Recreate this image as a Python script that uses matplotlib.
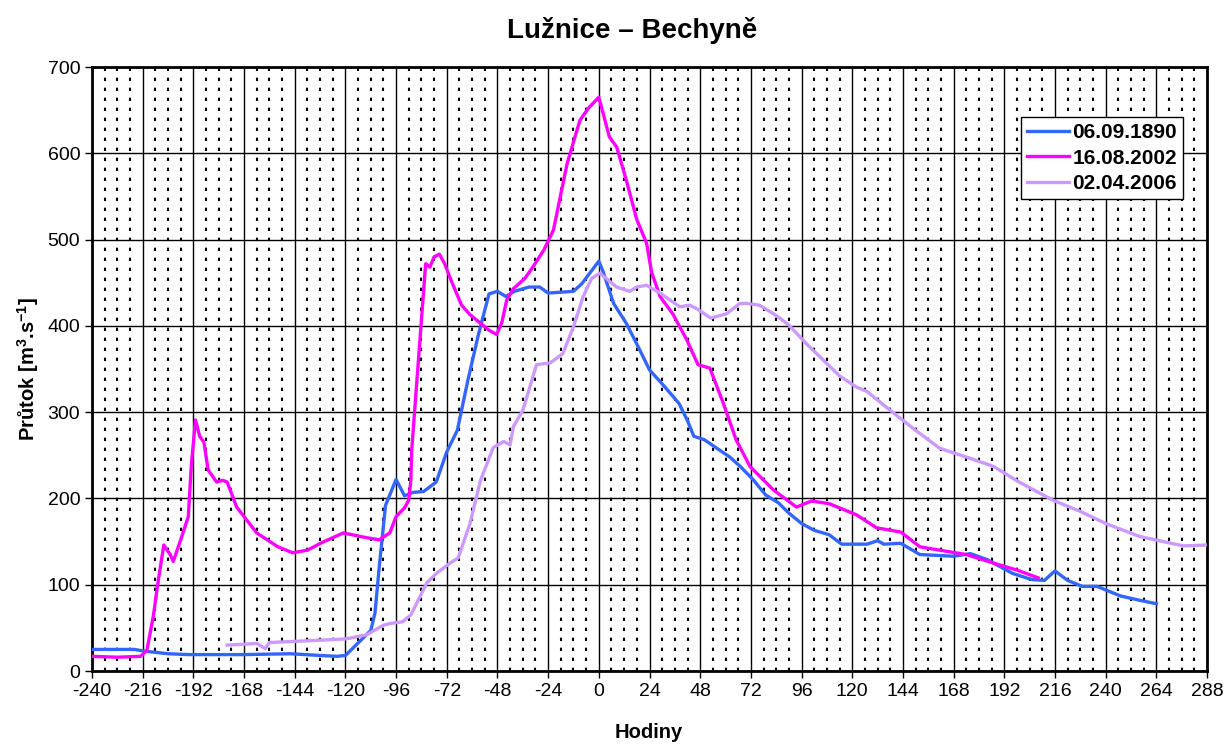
import matplotlib
matplotlib.use("Agg")
import matplotlib.pyplot as plt
import numpy as np

plt.rcParams['font.family'] = ['Liberation Sans', 'DejaVu Sans']
plt.rcParams['mathtext.default'] = 'regular'
plt.rcParams['axes.unicode_minus'] = False

# 06.09.1890
hours_1890 = [-240, -228, -220, -215, -204, -194, -168, -146, -132, -124, -120, -115, -108, -106,
              -104, -101, -96, -92, -88, -83, -77, -72, -67, -62, -57, -52, -48, -44, -40, -33,
              -28, -24, -12, -8, -4, 0, 2, 7, 13, 19, 24, 31, 38, 42, 45, 50, 56, 62, 67, 73,
              79, 85, 90, 96, 102, 109, 115, 127, 132, 135, 143, 152, 168, 176, 184, 196, 205,
              211, 216, 222, 229, 236, 247, 256, 264]
flow_1890 = [25, 25, 25, 23, 20, 19, 19, 20, 18, 17, 18, 30, 47, 67,
             120, 192, 222, 203, 207, 208, 219, 254, 279, 337, 390, 437, 440, 434, 440, 445,
             445, 438, 440, 449, 462, 475, 463, 426, 403, 374, 349, 330, 310, 290, 272, 268, 258, 248, 237, 222,
             204, 195, 183, 171, 163, 158, 147, 147, 151, 147, 148, 135, 133, 136, 129, 113, 106,
             105, 116, 105, 98, 98, 87, 82, 78]

# 16.08.2002
hours_2002 = [-240, -228, -217, -214, -211, -208.6, -206, -203, -201.5, -198, -194.4, -193, -191, -189,
              -187, -185, -181, -178, -176, -171.5, -162, -152, -145, -138, -131, -121, -111, -104,
              -99, -96, -92, -90, -89, -88.6, -82, -80, -78, -75.5, -73, -70, -65, -61, -56, -52,
              -48.4, -46, -43.6, -40.5, -35, -31, -26, -21.5, -15, -9, -5, 0, 5, 8.5, 13, 18,
              22.6, 25, 29, 35, 41.6, 47, 52.6, 59, 65, 71.6, 82.6, 93.6, 100.7, 109, 122, 131.5,
              143, 152, 161.5, 174, 187, 198, 208]
flow_2002 = [17, 16, 17, 24, 63, 105, 146, 135, 127, 152, 179, 237, 291, 272,
             265, 233, 219, 221, 219, 190, 160, 144, 137, 140, 149, 160, 155, 152,
             160, 179, 189, 198, 221, 256, 472, 468, 480, 483, 472, 453, 424, 413, 403, 395,
             390, 403, 430, 443, 455, 469, 488, 511, 588, 638, 652, 665, 619, 607, 569, 523,
             496, 462, 434, 414, 384, 355, 351, 310, 268, 237, 210, 190, 197, 194, 181, 166,
             161, 144, 140, 135, 125, 117, 108]

# 02.04.2006
hours_2006 = [-176, -168, -162, -158, -156, -138, -121, -118, -110, -102, -99, -93, -89, -81.5,
              -77, -70.5, -66.6, -61, -56, -50, -45, -42, -40.5, -36, -34, -29.5, -23, -17, -12,
              -7.4, -3.4, 0.5, 8.4, 14.7, 18, 22.6, 29, 38.4, 43, 46.3, 53, 60.5, 66.8, 70, 76,
              84, 90, 98, 114, 122, 127, 130, 138, 150, 161.5, 174, 187, 199, 215, 228, 240,
              256, 269, 277, 288]
flow_2006 = [30, 31, 32, 26, 33, 35, 37, 38, 42, 53, 55, 57, 65, 102,
             113, 125, 131, 171, 221, 259, 266, 262, 283, 302, 318, 355, 357, 368, 399,
             434, 455, 461, 445, 440, 445, 447, 438, 422, 424, 420, 409, 414, 426, 426, 424,
             412, 401, 380, 342, 329, 324, 318, 302, 279, 258, 248, 237, 219, 198, 185, 171,
             156, 149, 145, 146]

series = [
    (hours_1890, flow_1890, "06.09.1890", "#3366ff"),
    (hours_2002, flow_2002, "16.08.2002", "#ff00ff"),
    (hours_2006, flow_2006, "02.04.2006", "#cc99ff"),
]

W, H = 1224, 745
fig = plt.figure(figsize=(W / 100, H / 100), dpi=100)
ax = fig.add_axes([92 / W, 1 - 671 / H, 1115 / W, 604 / H])

ax.set_xlim(-240, 288)
ax.set_ylim(0, 700)
ax.set_xticks(np.arange(-240, 289, 24))
ax.set_xticks(np.arange(-240, 289, 6), minor=True)
ax.set_yticks(np.arange(0, 701, 100))

# grid: solid every 24 h / 100 m3/s, dotted every 6 h
ax.grid(True, which='major', color='black', linewidth=1.0, linestyle='-')
ax.grid(True, which='minor', axis='x', color='black', linewidth=1.5, linestyle=(0, (1.6, 3.2)))
ax.set_axisbelow(True)
ax.tick_params(axis='x', which='minor', length=0)
ax.tick_params(axis='both', which='major', direction='out', length=5, width=1, labelsize=14)

for h, q, lab, col in series:
    ax.plot(h, q, color=col, linewidth=2.4, label=lab, zorder=3)

for s in ax.spines.values():
    s.set_linewidth(2)

fig.text(632 / W, 1 - 38 / H, "Lužnice – Bechyně", fontsize=20, fontweight='bold',
         ha='center', va='baseline')
fig.text(649 / W, 1 - 738 / H, "Hodiny", fontsize=14.5, fontweight='bold',
         ha='center', va='baseline')
fig.text(28 / W, 1 - 369 / H, "Průtok [m$^{3}$.s$^{-1}$]", fontsize=14.5, fontweight='bold',
         ha='center', va='center', rotation=90)

leg = ax.legend(loc='upper right', bbox_to_anchor=(0.9785, 0.917), borderaxespad=0,
                fancybox=False, framealpha=1, edgecolor='black',
                prop={'weight': 'bold', 'size': 15}, handlelength=2.0, handletextpad=0.15,
                labelspacing=0.3, borderpad=0.3)
leg.get_frame().set_linewidth(1)

fig.savefig("out.png", dpi=100)
